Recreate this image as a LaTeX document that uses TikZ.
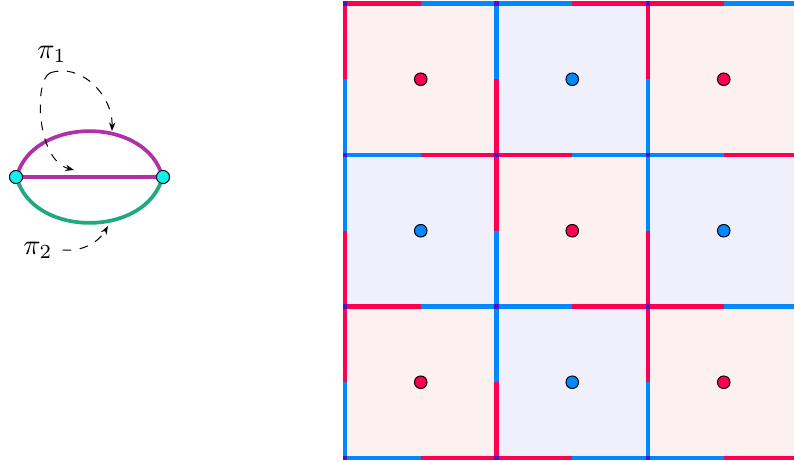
\documentclass[tikz,border=0pt]{standalone}
\usetikzlibrary{arrows.meta}

\definecolor{plaqred}{HTML}{FF0050}
\definecolor{plaqblue}{HTML}{0088FF}
\definecolor{cellred}{HTML}{FDF0F0}
\definecolor{cellblue}{HTML}{F0F0FC}
\definecolor{cornerviolet}{HTML}{5010C8}
\definecolor{pathone}{HTML}{B030A8}
\definecolor{pathtwo}{HTML}{20A880}
\definecolor{vertexcyan}{HTML}{10F0F0}

\tikzset{
  vertex/.style={circle, draw=black, fill=vertexcyan, inner sep=0pt, minimum size=4.6pt, line width=0.35pt},
  site/.style={circle, draw=black, inner sep=0pt, minimum size=4.4pt, line width=0.35pt},
  bond/.style={line width=1.6pt},
  pathlabel/.style={dashed, line width=0.35pt, -{Stealth[length=3pt,width=2.2pt]}},
}

\begin{document}
\begin{tikzpicture}[x=0.35pt, y=-0.35pt]
    \useasboundingbox (0,0) rectangle (794,462);
    \clip (0,0) rectangle (794,462);

    % two vertices and the three lines between them
    \node[vertex] (vL) at (16,177) {};
    \node[vertex] (vR) at (163,177) {};
    \draw[pathone, line width=1.3pt] (vL) -- (vR);
    \draw[pathone, line width=1.3pt] (vL) .. controls (40,118) and (139,118) .. (vR);
    \draw[pathtwo, line width=1.3pt] (vL) .. controls (40,236) and (139,236) .. (vR);

    \node (pi1) at (52,54) {$\pi_1$};
    \node (pi2) at (38,250) {$\pi_2$};
    \coordinate (start1) at (50,73);
    \coordinate (tipA) at (112,131);
    \coordinate (tipB) at (74,170);
    \coordinate (tipC) at (108,226);
    \draw[pathlabel] (start1) .. controls (80,62) and (113,95) .. (tipA);
    \draw[pathlabel] (start1) .. controls (34,80) and (36,160) .. (tipB);
    \draw[pathlabel] (pi2.east) .. controls (85,252) and (100,240) .. (tipC);

    % checkerboard of plaquettes
    \begin{scope}[shift={(345,3.5)}, x=53.025pt, y=-53.025pt]
        \foreach \c in {0,1,2} {
            \foreach \r in {0,1,2} {
                \pgfmathtruncatemacro\parity{mod(\c+\r,2)}
                \ifnum\parity=0
                    \fill[cellred] (\c,\r) rectangle ++(1,1);
                    \node[site, fill=plaqred] (s\c\r) at (\c+.5,\r+.5) {};
                \else
                    \fill[cellblue] (\c,\r) rectangle ++(1,1);
                    \node[site, fill=plaqblue] (s\c\r) at (\c+.5,\r+.5) {};
                \fi
            }
        }
        \foreach \i in {0,...,3} {
            \foreach \j in {0,1,2} {
                \pgfmathtruncatemacro\parity{mod(\i+\j,2)}
                \ifnum\parity=0
                    \def\first{plaqred}\def\second{plaqblue}
                \else
                    \def\first{plaqblue}\def\second{plaqred}
                \fi
                \draw[bond, \first] (\i,\j) -- (\i,\j+.5);
                \draw[bond, \second] (\i,\j+.5) -- (\i,\j+1);
                \draw[bond, \first] (\j,\i) -- (\j+.5,\i);
                \draw[bond, \second] (\j+.5,\i) -- (\j+1,\i);
            }
        }
        \foreach \i in {0,...,3}
            \foreach \j in {0,...,3}
                \fill[cornerviolet] (\i,\j) +(-0.8pt,-0.8pt) rectangle +(0.8pt,0.8pt);
    \end{scope}
\end{tikzpicture}
\end{document}
